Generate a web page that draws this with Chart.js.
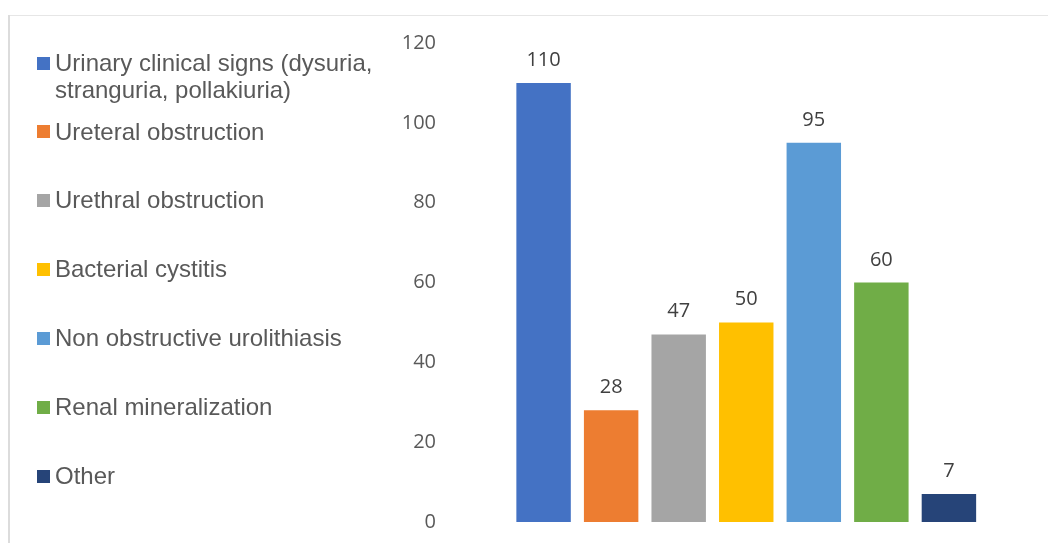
<!DOCTYPE html>
<html>
<head>
<meta charset="utf-8">
<title>Clinical presentation</title>
<script src="https://cdn.jsdelivr.net/npm/chart.js@4/dist/chart.umd.min.js"></script>
<style>
  html, body { margin: 0; padding: 0; background: #ffffff; }
  #wrap { width: 1048px; height: 543px; }
</style>
</head>
<body>
<div id="wrap"><canvas id="chart" width="1048" height="543"></canvas></div>
<script>
// Series shown as separate bars within a single category
const seriesNames = [
  'Urinary clinical signs (dysuria, stranguria, pollakiuria)',
  'Ureteral obstruction',
  'Urethral obstruction',
  'Bacterial cystitis',
  'Non obstructive urolithiasis',
  'Renal mineralization',
  'Other'
];
const seriesValues = [110, 28, 47, 50, 95, 60, 7];
const seriesColors = ['#4472C4', '#ED7D31', '#A5A5A5', '#FFC000', '#5B9BD5', '#70AD47', '#264478'];
const categories = [''];
const yTicks = [0, 20, 40, 60, 80, 100, 120];

const TICK_FONT = '20px "Open Sans", sans-serif';
const LEGEND_FONT = '24px "Liberation Sans", Arial, sans-serif';

// Wrap a legend label into lines no wider than maxWidth
function wrapText(ctx, text, maxWidth) {
  const words = text.split(' ');
  const lines = [];
  let line = '';
  for (const w of words) {
    const test = line ? line + ' ' + w : w;
    if (ctx.measureText(test).width > maxWidth && line) {
      lines.push(line);
      line = w;
    } else {
      line = test;
    }
  }
  if (line) lines.push(line);
  return lines;
}

// Light frame along the top and left edges
const framePlugin = {
  id: 'frame',
  beforeDraw(chart) {
    const ctx = chart.ctx;
    ctx.save();
    ctx.fillStyle = '#ffffff';
    ctx.fillRect(0, 0, chart.width, chart.height);
    ctx.fillStyle = '#e6e6e6';
    ctx.fillRect(9, 15, chart.width - 9, 1);
    ctx.fillStyle = '#dcdcdc';
    ctx.fillRect(8, 15, 2, chart.height - 15);
    ctx.restore();
  }
};

// Legend drawn as a vertical list on the left
const sideLegendPlugin = {
  id: 'sideLegend',
  afterDraw(chart) {
    const ctx = chart.ctx;
    const markerX = 37, markerSize = 13, textX = 55;
    const firstY = 63, step = 68.9, lineHeight = 27;
    ctx.save();
    ctx.font = LEGEND_FONT;
    ctx.textBaseline = 'middle';
    ctx.textAlign = 'left';
    chart.data.datasets.forEach((ds, i) => {
      const y = firstY + step * i;
      ctx.fillStyle = ds.backgroundColor;
      ctx.fillRect(markerX, Math.round(y - markerSize / 2), markerSize, markerSize);
      ctx.fillStyle = '#595959';
      const lines = wrapText(ctx, ds.label, 330);
      lines.forEach((ln, k) => ctx.fillText(ln, textX, y + 1 + k * lineHeight));
    });
    ctx.restore();
  }
};

// Value labels above each bar
const valueLabelPlugin = {
  id: 'valueLabels',
  afterDatasetsDraw(chart) {
    const ctx = chart.ctx;
    ctx.save();
    ctx.font = TICK_FONT;
    ctx.fillStyle = '#404040';
    ctx.textAlign = 'center';
    ctx.textBaseline = 'alphabetic';
    chart.data.datasets.forEach((ds, i) => {
      const meta = chart.getDatasetMeta(i);
      meta.data.forEach((bar, j) => {
        ctx.fillText(String(ds.data[j]), bar.x, bar.y - 17);
      });
    });
    ctx.restore();
  }
};

const datasets = seriesNames.map((name, i) => ({
  label: name,
  data: [seriesValues[i]],
  backgroundColor: seriesColors[i],
  borderWidth: 0,
  categoryPercentage: 0.826,
  barPercentage: 0.806
}));

new Chart(document.getElementById('chart'), {
  type: 'bar',
  data: { labels: categories, datasets },
  options: {
    responsive: false,
    animation: false,
    layout: { padding: { left: 400, right: 15.5, top: 43, bottom: 21 } },
    plugins: {
      legend: { display: false },
      tooltip: { enabled: false },
      title: { display: false }
    },
    scales: {
      x: { display: false },
      y: {
        min: 0,
        max: 120,
        afterFit(scale) {
          scale.width = 60;
          scale.paddingTop = 0;
          scale.paddingBottom = 0;
        },
        afterBuildTicks(scale) { scale.ticks = yTicks.map(v => ({ value: v })); },
        grid: { display: false, drawTicks: false },
        border: { display: false },
        ticks: {
          padding: 24,
          color: '#595959',
          font: { family: '"Open Sans", sans-serif', size: 20 }
        }
      }
    }
  },
  plugins: [framePlugin, sideLegendPlugin, valueLabelPlugin]
});
</script>
</body>
</html>
